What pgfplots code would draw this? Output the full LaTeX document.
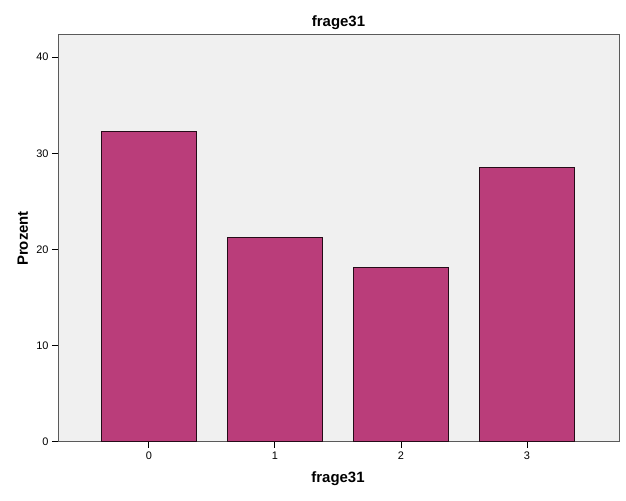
\documentclass[border=0pt]{standalone}
\usepackage{fontspec}
\setmainfont{Liberation Sans}
\usepackage{pgfplots}
\pgfplotsset{compat=1.18}
\definecolor{barc}{RGB}{186,61,122}
\definecolor{bgc}{RGB}{240,240,240}
\definecolor{axc}{RGB}{90,90,90}
\begin{document}
\begin{tikzpicture}
\useasboundingbox (0,0) rectangle (626bp,501bp);
\begin{axis}[
  at={(58bp,59bp)}, anchor=south west,
  scale only axis, width=561bp, height=407bp,
  xmin=-0.722, xmax=3.73, ymin=0, ymax=42.3,
  axis background/.style={fill=bgc},
  axis line style={draw=axc, line width=1bp},
  xtick={0,1,2,3}, ytick={0,10,20,30,40},
  xtick pos=left, ytick pos=left,
  tick align=outside, major tick length=6bp,
  tick style={black, line width=1bp},
  ticklabel style={font=\fontsize{11}{13}\selectfont},
  /pgf/number format/assume math mode=true,
  title={frage31},
  title style={font=\fontsize{15}{18}\selectfont\bfseries, at={(axis description cs:0.5,1.0221)}, anchor=base, yshift=-6bp},
  xlabel={frage31},
  xlabel style={font=\fontsize{15}{18}\selectfont\bfseries, at={(axis description cs:0.4991,-0.1007)}, anchor=base},
  ylabel={Prozent},
  ylabel style={font=\fontsize{15}{18}\selectfont\bfseries, at={(axis description cs:-0.0535,0.5)}, anchor=base},
]
\addplot[ybar, bar width=95bp, fill=barc, draw=black!80!barc, line width=1bp]
  coordinates {(0,32.3) (1,21.3) (2,18.1) (3,28.5)};
\end{axis}
\end{tikzpicture}
\end{document}
